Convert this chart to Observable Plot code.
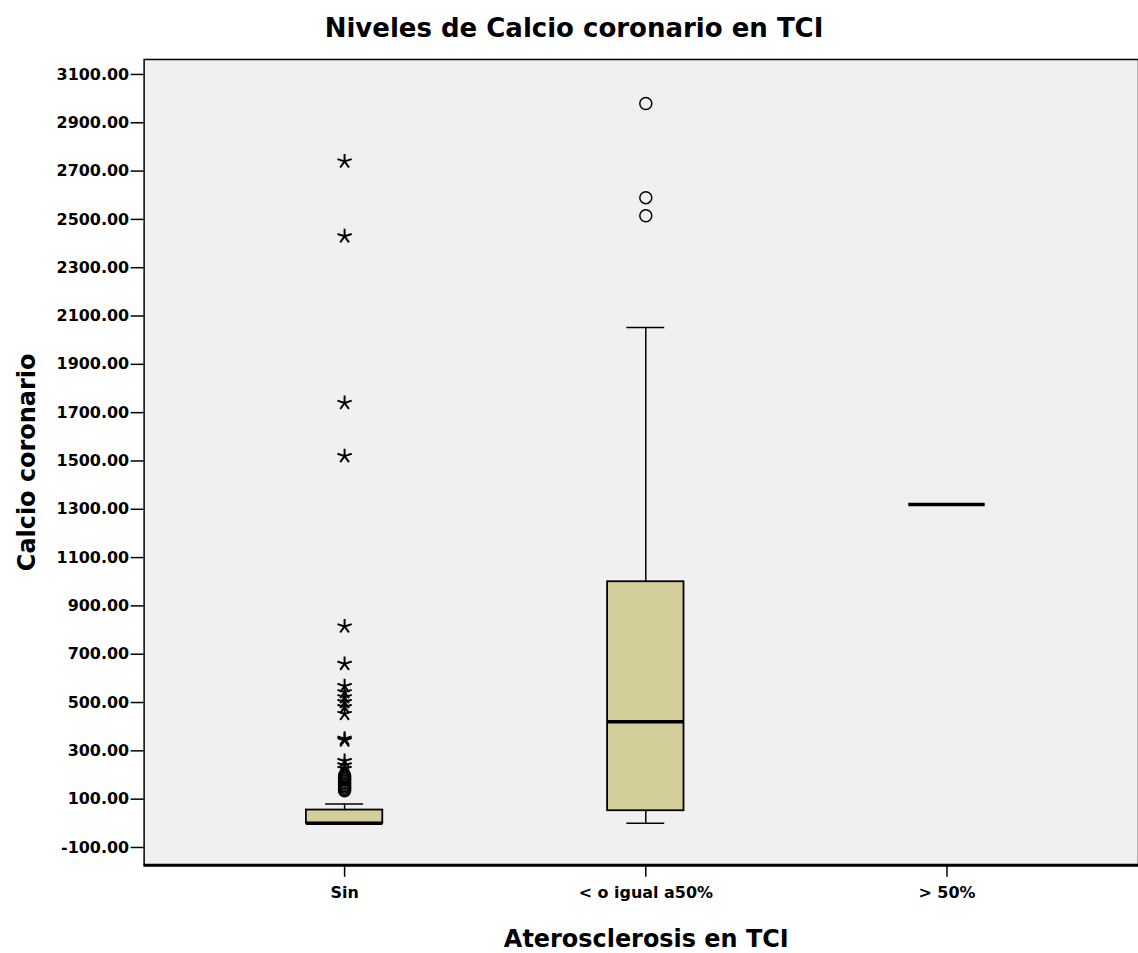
<!DOCTYPE html>
<html><head><meta charset="utf-8">
<script src="https://cdn.jsdelivr.net/npm/d3@7"></script>
<script src="https://cdn.jsdelivr.net/npm/@observablehq/plot@0.6"></script>
<style>
html,body{margin:0;padding:0;background:#fff;overflow:hidden;width:1138px;height:953px;}
#title{position:absolute;left:0;top:13px;width:1148px;text-align:center;font-family:"DejaVu Sans";font-weight:bold;font-size:26px;line-height:30px;color:#000;}
#chart{position:absolute;left:0;top:50px;}
</style></head><body>
<div id="title">Niveles de Calcio coronario en TCI</div>
<div id="chart"></div>
<script>
// Categories and box statistics
const categories = ["Sin", "< o igual a50%", "> 50%"];
const whiskerLow  = [0, 0, 1320];
const q1          = [0, 52, 1320];
const median      = [0, 420, 1320];
const q3          = [55, 1000, 1320];
const whiskerHigh = [80, 2052, 1320];
// Extremes (stars) and outliers (circles)
const sinExtremes = [2740, 2430, 1740, 1520, 815, 660, 568, 543, 522, 502, 481, 453, 350, 343, 258, 240, 225];
const sinOutliers = [198, 192, 186, 180, 174, 168, 162, 156, 150, 145, 140, 135];
const midOutliers = [2980, 2590, 2515];
const yTicks = d3.range(-100, 3101, 200);

const boxes = categories.map((c, i) => ({cat: c, lo: whiskerLow[i], q1: q1[i], med: median[i], q3: q3[i], hi: whiskerHigh[i]}));
const stars = sinExtremes.map(v => ({cat: categories[0], v}));
const circles = [
  ...sinOutliers.map(v => ({cat: categories[0], v})),
  ...midOutliers.map(v => ({cat: categories[1], v}))
];

const star5 = {
  draw(context, size) {
    const r = Math.sqrt(size / Math.PI);
    for (let k = 0; k < 5; k++) {
      const a = -Math.PI / 2 + k * 2 * Math.PI / 5;
      context.moveTo(0, 0);
      context.lineTo(r * Math.cos(a), r * Math.sin(a));
    }
  }
};

const chart = Plot.plot({
  width: 1141,
  height: 903,
  marginLeft: 144,
  marginRight: 0,
  marginTop: 9,
  marginBottom: 86,
  style: {fontFamily: "DejaVu Sans", fontWeight: "bold", fontSize: "16px", color: "black", background: "white", overflow: "visible"},
  x: {type: "band", domain: categories, range: [144, 1150], padding: 0.33},
  y: {domain: [-174, 3162]},
  marks: [
    Plot.frame({fill: "#f0f0f0", stroke: "black", strokeWidth: 1.5}),
    Plot.ruleY([-174], {stroke: "black", strokeWidth: 3}),
    Plot.axisY({ticks: yTicks, tickFormat: d => d.toFixed(2), tickSize: 13, tickPadding: 2, label: null, strokeWidth: 1.5, fontWeight: "bold"}),
    Plot.axisX({tickSize: 12, tickPadding: 9, label: null, strokeWidth: 1.5, fontWeight: "bold"}),
    Plot.ruleX(boxes, {x: "cat", y1: "q3", y2: "hi", stroke: "black", strokeWidth: 1.5}),
    Plot.ruleX(boxes, {x: "cat", y1: "lo", y2: "q1", stroke: "black", strokeWidth: 1.5}),
    Plot.tickY(boxes, {x: "cat", y: "hi", inset: 82, stroke: "black", strokeWidth: 1.5}),
    Plot.tickY(boxes, {x: "cat", y: "lo", inset: 82, stroke: "black", strokeWidth: 1.5}),
    Plot.barY(boxes, {x: "cat", y1: "q1", y2: "q3", fill: "#d3ce9a", stroke: "black", strokeWidth: 1.8, insetLeft: 62.7, insetRight: 62.7}),
    Plot.tickY(boxes, {x: "cat", y: "med", inset: 62.7, stroke: "black", strokeWidth: 3.5}),
    Plot.dot(circles, {x: "cat", y: "v", r: 6, stroke: "black", strokeWidth: 1.5, fill: "none"}),
    Plot.dot(stars, {x: "cat", y: "v", symbol: star5, r: 7.5, stroke: "black", strokeWidth: 2, fill: "none"}),
    Plot.text(["Calcio coronario"], {frameAnchor: "left", textAnchor: "middle", lineAnchor: "middle", dx: -117, rotate: -90, fontSize: 24, fontWeight: "bold", fill: "black"}),
    Plot.text(["Aterosclerosis en TCI"], {frameAnchor: "bottom", textAnchor: "middle", lineAnchor: "middle", dx: 5, dy: 74, fontSize: 24, fontWeight: "bold", fill: "black"})
  ]
});
document.getElementById("chart").appendChild(chart);
</script>
</body></html>
